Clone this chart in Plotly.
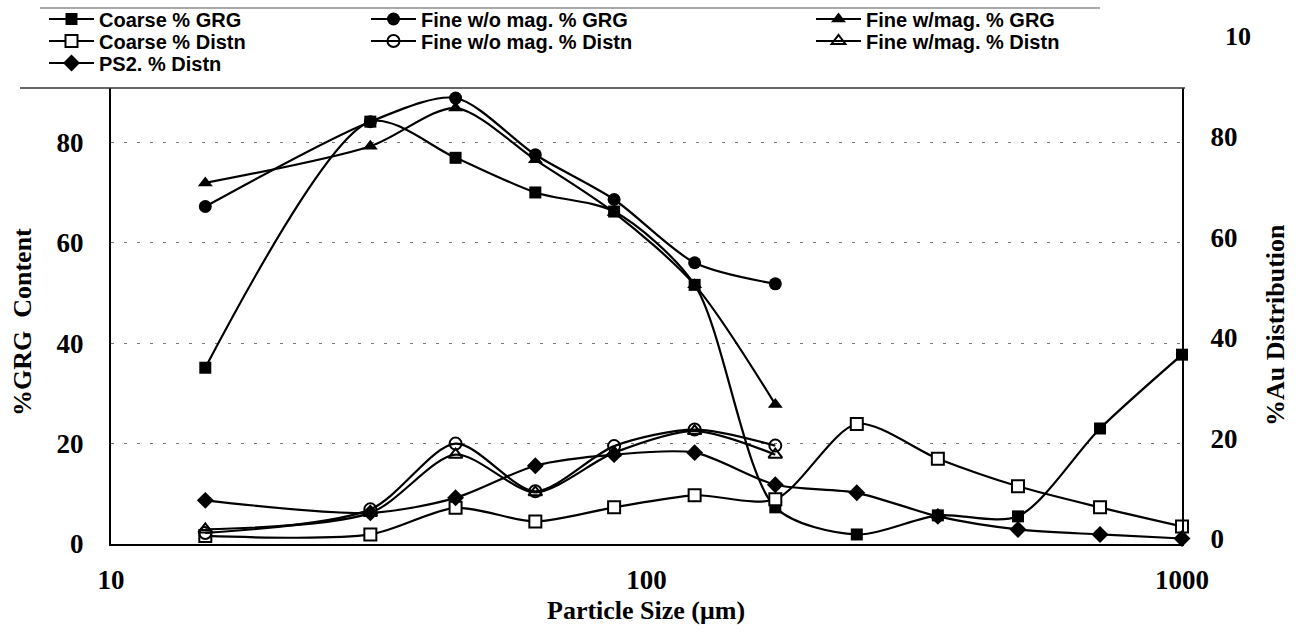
import plotly.graph_objects as go

# ---- data ----
size_um = [15, 30.5, 44, 62, 87, 123, 174, 247, 350, 494, 703, 1000]
size_fine = size_um[:7]

coarse_grg = [35.1, 84.1, 76.9, 70.0, 66.2, 51.6, 7.3, 1.9, 5.7, 5.5, 23.0, 37.7]
fine_wo_grg = [67.2, 84.1, 88.8, 77.5, 68.6, 56.0, 51.8]
fine_w_grg = [71.9, 79.2, 86.8, 76.5, 66.0, 51.6, 27.8]

coarse_distn = [0.5, 0.8, 6.1, 3.4, 6.2, 8.6, 7.8, 22.8, 15.9, 10.4, 6.2, 2.4]
fine_wo_distn = [1.1, 5.8, 18.9, 9.4, 18.4, 21.7, 18.5]
fine_w_distn = [1.8, 5.1, 16.7, 9.2, 17.1, 21.4, 16.7]
ps2_distn = [7.6, 5.1, 8.1, 14.5, 16.7, 17.1, 10.7, 9.1, 4.4, 1.8, 0.8, 0.0]

y_ticks = [0, 20, 40, 60, 80]
x_ticks = [10, 100, 1000]

SERIF = "Liberation Serif, Times New Roman, serif"
NARROW = "Liberation Sans Narrow, Arial Narrow, Liberation Sans, sans-serif"

W, H = 1296, 632
ML, MR, MT, MB = 111, 114, 88, 88
PW, PH = W - ML - MR, H - MT - MB


def px_x(px):
    return (px - ML) / PW


def px_y(py):
    return (H - MB - py) / PH


fig = go.Figure()

series = [
    ("Coarse % GRG", size_um, coarse_grg, "y", dict(symbol="square", color="black", size=12), "legend"),
    ("Fine w/o mag. % GRG", size_fine, fine_wo_grg, "y", dict(symbol="circle", color="black", size=13), "legend2"),
    ("Fine w/mag. % GRG", size_fine, fine_w_grg, "y", dict(symbol="triangle-up", color="black", size=13), "legend3"),
    ("Coarse % Distn", size_um, coarse_distn, "y2", dict(symbol="square", color="white", size=12, line=dict(color="black", width=2)), "legend4"),
    ("Fine w/o mag. % Distn", size_fine, fine_wo_distn, "y2", dict(symbol="circle-open", color="black", size=12, line=dict(color="black", width=2)), "legend5"),
    ("Fine w/mag. % Distn", size_fine, fine_w_distn, "y2", dict(symbol="triangle-up-open", color="black", size=12, line=dict(color="black", width=2)), "legend6"),
    ("PS2. % Distn", size_um, ps2_distn, "y2", dict(symbol="diamond", color="black", size=13), "legend7"),
]

for name, xs, ys, yax, mk, lg in series:
    fig.add_trace(go.Scatter(
        x=xs, y=ys, name=name, yaxis=yax, mode="lines+markers",
        line=dict(color="black", width=2.2, shape="spline", smoothing=0.8),
        marker=mk, legend=lg, cliponaxis=False,
    ))

# legend positions (container px): left x, row center y
col_x = [44, 366, 811]
row_y = [19, 41, 63]
pos = {
    "legend": (col_x[0], row_y[0]),
    "legend2": (col_x[1], row_y[0]),
    "legend3": (col_x[2], row_y[0]),
    "legend4": (col_x[0], row_y[1]),
    "legend5": (col_x[1], row_y[1]),
    "legend6": (col_x[2], row_y[1]),
    "legend7": (col_x[0], row_y[2]),
}
legend_layouts = {}
for key, (px, py) in pos.items():
    legend_layouts[key] = dict(
        xref="container", yref="container",
        x=px / W, y=1 - py / H, xanchor="left", yanchor="middle",
        bgcolor="rgba(0,0,0,0)", borderwidth=0,
        font=dict(family=NARROW, size=20, color="black", weight="bold"),
        itemwidth=45, tracegroupgap=0,
    )

title_font = dict(family=SERIF, size=26, color="black", weight="bold")

fig.update_layout(
    width=W, height=H,
    margin=dict(l=ML, r=MR, t=MT, b=MB, autoexpand=False),
    paper_bgcolor="white", plot_bgcolor="white",
    showlegend=True,
    **legend_layouts,
    xaxis=dict(
        type="log", range=[1, 3], automargin=False,
        tickvals=x_ticks, ticktext=[str(v) for v in x_ticks],
        showgrid=False, zeroline=False,
        showline=True, linecolor="black", linewidth=2,
        ticks="", ticklabelstandoff=11,
        tickfont=dict(family=SERIF, size=27, color="black", weight="bold"),
    ),
    yaxis=dict(
        range=[0, 90.8], tickvals=y_ticks, automargin=False,
        showgrid=True, gridcolor="#777", gridwidth=1, griddash="3px,10px",
        zeroline=False, showline=True, linecolor="black", linewidth=2,
        ticks="", ticklabelstandoff=20,
        tickfont=dict(family=SERIF, size=27, color="black", weight="bold"),
    ),
    yaxis2=dict(
        range=[-1.1, 89.75], tickvals=y_ticks, overlaying="y", side="right", automargin=False,
        showgrid=False, zeroline=False, showline=True, linecolor="black", linewidth=2,
        ticks="", ticklabelstandoff=21,
        tickfont=dict(family=SERIF, size=27, color="black", weight="bold"),
    ),
    shapes=[
        dict(type="line", xref="paper", yref="paper",
             x0=px_x(20), x1=px_x(1185), y0=1, y1=1,
             line=dict(color="#333", width=1.5)),
        dict(type="line", xref="paper", yref="paper",
             x0=px_x(40), x1=px_x(1100), y0=px_y(8), y1=px_y(8),
             line=dict(color="#555", width=1)),
    ],
    annotations=[
        dict(text="10", xref="paper", yref="paper", x=px_x(1238), y=px_y(37),
             xanchor="center", yanchor="middle", showarrow=False,
             font=dict(family=SERIF, size=26, color="black", weight="bold")),
        dict(text="Particle Size (μm)", xref="paper", yref="paper",
             x=px_x(646), y=px_y(610), xanchor="center", yanchor="middle",
             showarrow=False, font=title_font),
        dict(text="%GRG  Content", xref="paper", yref="paper",
             x=px_x(22), y=px_y(322), xanchor="center", yanchor="middle",
             textangle=-90, showarrow=False, font=title_font),
        dict(text="%Au Distribution", xref="paper", yref="paper",
             x=px_x(1275), y=px_y(325), xanchor="center", yanchor="middle",
             textangle=-90, showarrow=False, font=title_font),
    ],
)

fig.write_html("out.html")
